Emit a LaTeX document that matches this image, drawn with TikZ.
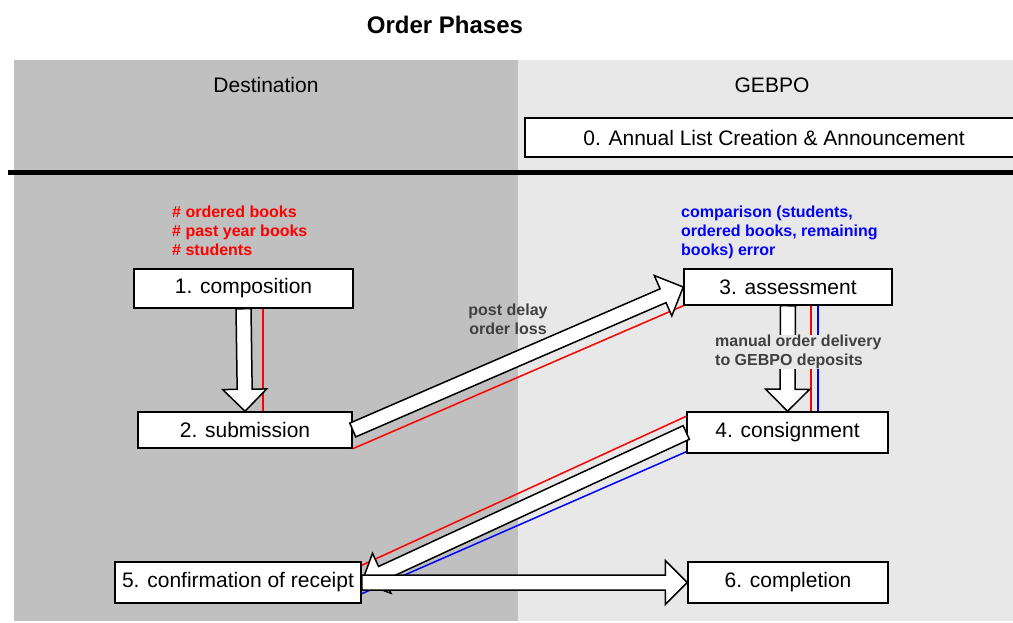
\documentclass[tikz,border=0pt]{standalone}
\usepackage{fontspec}
\setmainfont{Liberation Sans}
\usetikzlibrary{calc,positioning}
\definecolor{destgray}{HTML}{C0C0C0}
\definecolor{gebpogray}{HTML}{E8E8E8}
\definecolor{notegray}{HTML}{404040}
\newcommand{\blockarr}[2]{%
  \coordinate (hb) at ($(#2)!22pt!(#1)$);
  \draw[line width=1.5pt, fill=white, line join=miter]
    ($(#1)!7.5pt!90:(#2)$) -- ($(hb)!7.5pt!90:(#2)$) -- ($(hb)!22pt!90:(#2)$) -- (#2)
    -- ($(hb)!22pt!-90:(#2)$) -- ($(hb)!7.5pt!-90:(#2)$) -- ($(#1)!7.5pt!-90:(#2)$) -- cycle;}

\begin{document}
\begin{tikzpicture}[x=1pt,y=-1pt,
    phase/.style={draw, line width=1.5pt, fill=white, inner sep=0pt, font=\fontsize{21}{25}\selectfont},
    lane/.style={font=\fontsize{21}{25}\selectfont},
    rnote/.style={red, font=\bfseries\fontsize{16}{19}\selectfont, align=left, inner sep=0pt},
    bnote/.style={blue, font=\bfseries\fontsize{16}{19}\selectfont, align=left, inner sep=0pt},
    gnote/.style={notegray, font=\bfseries\fontsize{16}{18.5}\selectfont, inner ysep=0pt, inner xsep=1pt},
    redline/.style={red, line width=1.5pt},
    blueline/.style={blue, line width=1.5pt}]
  \clip (0,0) rectangle (1013,623);
  % lanes
  \fill[destgray] (14,60) rectangle (518,621);
  \fill[gebpogray] (518,60) rectangle (1013,621);
  \draw[line width=5pt] (8,172.5) -- (1013,172.5);
  \node[font=\bfseries\fontsize{24}{28}\selectfont] (title) at (445,25) {Order Phases};
  \node[lane] (dest) at (266,85) {Destination};
  \node[lane] (gebpo) at (772,85) {GEBPO};
  % phases
  \node[phase, minimum width=498pt, minimum height=39pt] (annual) at (774,137.5) {0. Annual List Creation \& Announcement};
  \node[phase, minimum width=219pt, minimum height=39pt] (comp) at (243.5,288.5) {1. composition};
  \node[phase, minimum width=214pt, minimum height=36pt] (sub) at (245,430) {2. submission};
  \node[phase, minimum width=208pt, minimum height=36pt] (ass) at (788,287) {3. assessment};
  \node[phase, minimum width=201pt, minimum height=41pt] (cons) at (787.5,432.5) {4. consignment};
  \node[phase, minimum width=246pt, minimum height=41pt] (conf) at (238,582.5) {5. confirmation of receipt};
  \node[phase, minimum width=200pt, minimum height=41pt] (compl) at (788,582.5) {6. completion};
  \node[rnote, anchor=north west] (countnote) at (172,206) {\# ordered books\\\# past year books\\\# students};
  \node[bnote, anchor=north west] (cmpnote) at (681,206) {comparison (students,\\ordered books, remaining\\books) error};
  % red / blue lines
  \draw[redline] ($(comp.south)+(19.5,0)$) -- ($(comp.south |- sub.north)+(19.5,0)$);
  \draw[redline] (sub.south east) -- (ass.south west);
  \draw[redline] ($(ass.south)+(23,0)$) -- ($(ass.south |- cons.north)+(23,0)$);
  \draw[blueline] ($(ass.south)+(30,0)$) -- ($(ass.south |- cons.north)+(30,0)$);
  \draw[redline] ([yshift=-5pt]cons.north west) -- ([yshift=-4pt]conf.north east);
  \draw[blueline] ([yshift=2pt]cons.south west) -- ([yshift=10pt]conf.south east);
  % block arrows
  \blockarr{comp.south}{sub.north}
  \blockarr{sub.east}{ass.west}
  \blockarr{ass.south}{cons.north}
  \blockarr{cons.west}{conf.east}
  \blockarr{conf.east}{compl.west}
  \node[gnote, anchor=north, align=center] (delaynote) at (508,304) {post delay\\order loss};
  \node[gnote, anchor=north west, align=left, fill=gebpogray] (manualnote) at (714,335) {manual order delivery\\to GEBPO deposits};
\end{tikzpicture}
\end{document}
